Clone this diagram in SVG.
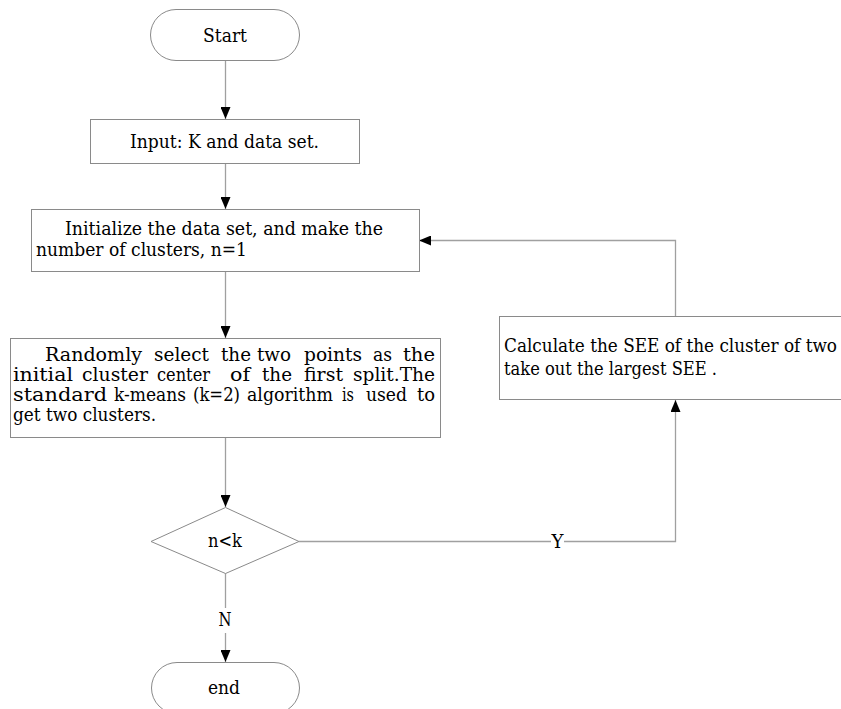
<svg xmlns="http://www.w3.org/2000/svg" width="841" height="709" viewBox="0 0 841 709">
<style>
.box{fill:#fff;stroke:#8a8a8a;stroke-width:1}
.ln{fill:none;stroke:#a0a0a0;stroke-width:1.3}
.t{font-family:"DejaVu Serif","Liberation Serif",serif;font-size:18px;fill:#000}
</style>
<defs>
<marker id="ah" viewBox="0 0 12 10" refX="12" refY="5" markerWidth="12" markerHeight="10" markerUnits="userSpaceOnUse" orient="auto">
<path d="M0,0 L12,5 L0,10 z" fill="#000"/>
</marker>
</defs>
<rect width="841" height="709" fill="#fff"/>
<g id="connectors">
<path class="ln" d="M225.5,60 V119" marker-end="url(#ah)"/>
<path class="ln" d="M225.5,163 V209" marker-end="url(#ah)"/>
<path class="ln" d="M225.5,271 V338" marker-end="url(#ah)"/>
<path class="ln" d="M225.5,437 V507" marker-end="url(#ah)"/>
<path class="ln" d="M225.5,573 V608"/>
<path class="ln" d="M225.5,633 V662" marker-end="url(#ah)"/>
<path class="ln" d="M299,541.5 H551"/>
<path class="ln" d="M564,541.5 H675.5 V400" marker-end="url(#ah)"/>
<path class="ln" d="M675.5,316 V240.5 H419" marker-end="url(#ah)"/>
<text class="t" x="557.5" y="548" text-anchor="middle" textLength="12" lengthAdjust="spacingAndGlyphs">Y</text>
<text class="t" x="225" y="626" text-anchor="middle" textLength="13" lengthAdjust="spacingAndGlyphs">N</text>
</g>
<g id="start">
<rect class="box" x="150.5" y="9.5" width="149" height="51" rx="25.5"/>
<text class="t" x="203" y="41.5" textLength="44" lengthAdjust="spacingAndGlyphs">Start</text>
</g>
<g id="input">
<rect class="box" x="90.5" y="119.5" width="269" height="44"/>
<text class="t" x="130" y="148" textLength="189" lengthAdjust="spacingAndGlyphs">Input: K and data set.</text>
</g>
<g id="init">
<rect class="box" x="31.5" y="209.5" width="388" height="62"/>
<text class="t" x="65" y="235" textLength="318" lengthAdjust="spacingAndGlyphs">Initialize the data set, and make the</text>
<text class="t" x="36" y="256" textLength="211" lengthAdjust="spacingAndGlyphs">number of clusters, n=1</text>
</g>
<g id="random">
<rect class="box" x="10.5" y="338.5" width="430" height="99"/>
<text class="t" x="45" y="361" textLength="97" lengthAdjust="spacingAndGlyphs">Randomly</text>
<text class="t" x="154" y="361" textLength="55" lengthAdjust="spacingAndGlyphs">select</text>
<text class="t" x="221" y="361" textLength="30" lengthAdjust="spacingAndGlyphs">the</text>
<text class="t" x="257" y="361" textLength="34" lengthAdjust="spacingAndGlyphs">two</text>
<text class="t" x="304" y="361" textLength="58" lengthAdjust="spacingAndGlyphs">points</text>
<text class="t" x="373" y="361" textLength="19" lengthAdjust="spacingAndGlyphs">as</text>
<text class="t" x="403" y="361" textLength="32" lengthAdjust="spacingAndGlyphs">the</text>
<text class="t" x="13" y="381" textLength="60" lengthAdjust="spacingAndGlyphs">initial</text>
<text class="t" x="82" y="381" textLength="66" lengthAdjust="spacingAndGlyphs">cluster</text>
<text class="t" x="157" y="381" textLength="53" lengthAdjust="spacingAndGlyphs">center</text>
<text class="t" x="230" y="381" textLength="20" lengthAdjust="spacingAndGlyphs">of</text>
<text class="t" x="262" y="381" textLength="30" lengthAdjust="spacingAndGlyphs">the</text>
<text class="t" x="304" y="381" textLength="39" lengthAdjust="spacingAndGlyphs">first</text>
<text class="t" x="353" y="381" textLength="82" lengthAdjust="spacingAndGlyphs">split.The</text>
<text class="t" x="13" y="401" textLength="94" lengthAdjust="spacingAndGlyphs">standard</text>
<text class="t" x="114" y="401" textLength="72" lengthAdjust="spacingAndGlyphs">k-means</text>
<text class="t" x="193" y="401" textLength="47" lengthAdjust="spacingAndGlyphs">(k=2)</text>
<text class="t" x="247" y="401" textLength="86" lengthAdjust="spacingAndGlyphs">algorithm</text>
<text class="t" x="342" y="401" textLength="12" lengthAdjust="spacingAndGlyphs">is</text>
<text class="t" x="366" y="401" textLength="41" lengthAdjust="spacingAndGlyphs">used</text>
<text class="t" x="417" y="401" textLength="18" lengthAdjust="spacingAndGlyphs">to</text>
<text class="t" x="13" y="421" textLength="143" lengthAdjust="spacingAndGlyphs">get two clusters.</text>
</g>
<g id="calc">
<rect class="box" x="499.5" y="316.5" width="342" height="83"/>
<text class="t" x="504" y="352" textLength="333" lengthAdjust="spacingAndGlyphs">Calculate the SEE of the cluster of two</text>
<text class="t" x="504" y="375" textLength="213" lengthAdjust="spacingAndGlyphs">take out the largest SEE .</text>
</g>
<g id="decision">
<polygon class="box" points="151,541.5 225.5,507.5 299,541.5 225.5,573.5"/>
<text class="t" x="208" y="547" textLength="34" lengthAdjust="spacingAndGlyphs">n&lt;k</text>
</g>
<g id="end">
<rect class="box" x="151.5" y="662.5" width="148" height="51" rx="25.5"/>
<text class="t" x="208" y="694" textLength="32" lengthAdjust="spacingAndGlyphs">end</text>
</g>
</svg>
